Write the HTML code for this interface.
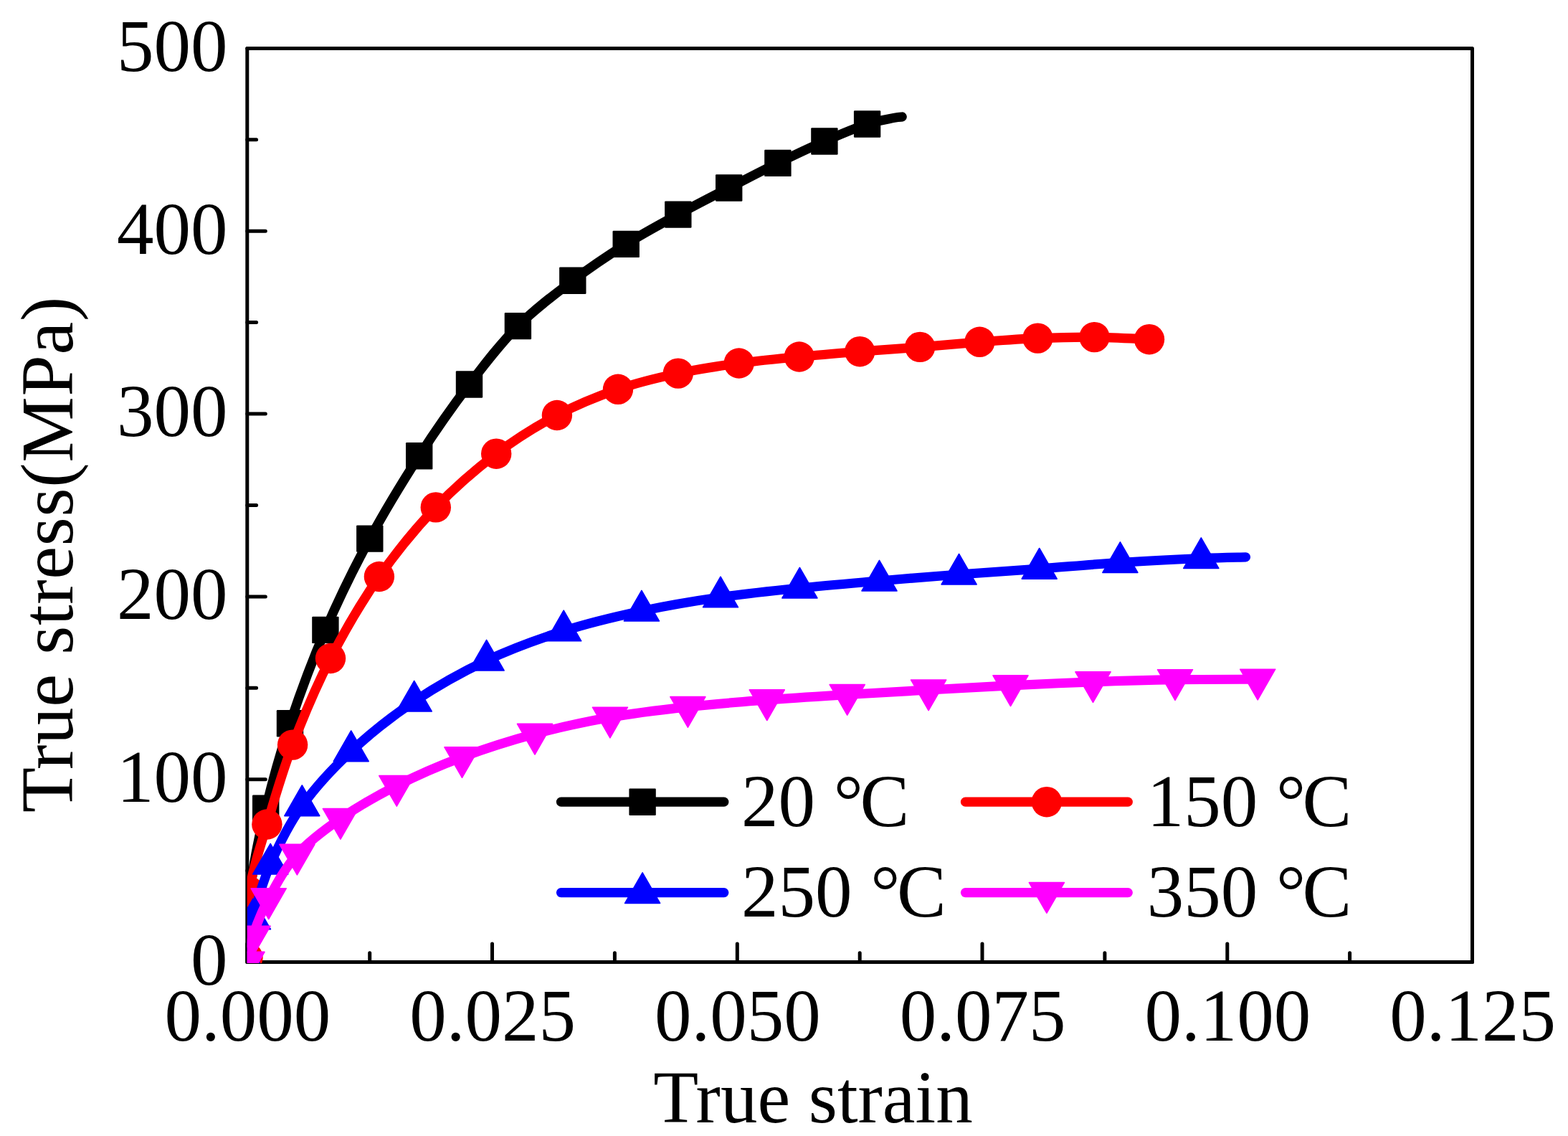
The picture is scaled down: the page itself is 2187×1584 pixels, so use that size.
<!DOCTYPE html>
<html lang="en">
<head>
<meta charset="utf-8">
<title>True stress vs. true strain at different temperatures</title>
<style>
html,body{margin:0;padding:0;background:#ffffff;}
body{width:2187px;height:1584px;overflow:hidden;}
svg{display:block;}
text{font-family:'Liberation Serif', serif;font-size:103px;fill:#000;}
.ax{stroke:#000;stroke-width:5;fill:none;stroke-linecap:round;stroke-linejoin:round;}
</style>
</head>
<body>
<svg width="2187" height="1584" viewBox="0 0 2187 1584">
<rect x="0" y="0" width="2187" height="1584" fill="#ffffff"/>
<g class="ax">
<rect x="344.8" y="67.4" width="1708.7" height="1274.1"/>
<path d="M344.8 1341.5h25.5M344.8 1214.1h12.8M344.8 1086.7h25.5M344.8 959.3h12.8M344.8 831.9h25.5M344.8 704.5h12.8M344.8 577h25.5M344.8 449.6h12.8M344.8 322.2h25.5M344.8 194.8h12.8M344.8 67.4h25.5M344.8 1341.5v-25.5M515.7 1341.5v-12.8M686.5 1341.5v-25.5M857.4 1341.5v-12.8M1028.3 1341.5v-25.5M1199.2 1341.5v-12.8M1370 1341.5v-25.5M1540.9 1341.5v-12.8M1711.8 1341.5v-25.5M1882.6 1341.5v-12.8M2053.5 1341.5v-25.5"/>
</g>
<defs><clipPath id="plotclip"><rect x="344.8" y="67.4" width="1711.2" height="1275.7"/></clipPath></defs>
<g clip-path="url(#plotclip)">
<path d="M345.2 1320C346.2 1304 347.2 1256.1 351.5 1224C355.8 1191.9 361.9 1163.2 370.7 1127.3C379.5 1091.4 390.6 1050.3 404.5 1008.8C418.4 967.3 435.3 921.3 453.9 878.4C472.4 835.5 494 791.5 515.8 751.1C537.6 710.7 561.6 671.6 584.7 635.7C607.8 599.9 631.5 566.2 654.5 536C677.5 505.8 698.4 478.7 722.4 454.6C746.4 430.5 773.7 410.3 798.8 391.3C823.9 372.3 848.7 355.8 873.2 340.4C897.7 325 921.9 312.2 945.8 299.1C969.7 286 993.5 273.9 1016.7 262C1039.9 250.1 1062.7 238.2 1084.9 227.4C1107.1 216.6 1129.1 206.1 1149.9 197C1170.7 187.9 1193.4 178.4 1209.6 173C1225.8 167.6 1238.7 166.1 1246.8 164.4C1254.9 162.7 1256.3 163.2 1258.2 162.9" fill="none" stroke="#000000" stroke-width="13.2" stroke-linecap="round" stroke-linejoin="round"/>
<rect x="352" y="1108.6" width="37.4" height="37.4" rx="1.2" fill="#000000"/><rect x="385.8" y="990.1" width="37.4" height="37.4" rx="1.2" fill="#000000"/><rect x="435.2" y="859.7" width="37.4" height="37.4" rx="1.2" fill="#000000"/><rect x="497.1" y="732.4" width="37.4" height="37.4" rx="1.2" fill="#000000"/><rect x="566" y="617" width="37.4" height="37.4" rx="1.2" fill="#000000"/><rect x="635.8" y="517.3" width="37.4" height="37.4" rx="1.2" fill="#000000"/><rect x="703.7" y="435.9" width="37.4" height="37.4" rx="1.2" fill="#000000"/><rect x="780.1" y="372.6" width="37.4" height="37.4" rx="1.2" fill="#000000"/><rect x="854.5" y="321.7" width="37.4" height="37.4" rx="1.2" fill="#000000"/><rect x="927.1" y="280.4" width="37.4" height="37.4" rx="1.2" fill="#000000"/><rect x="998" y="243.3" width="37.4" height="37.4" rx="1.2" fill="#000000"/><rect x="1066.2" y="208.7" width="37.4" height="37.4" rx="1.2" fill="#000000"/><rect x="1131.2" y="178.3" width="37.4" height="37.4" rx="1.2" fill="#000000"/><rect x="1190.9" y="154.3" width="37.4" height="37.4" rx="1.2" fill="#000000"/>
<path d="M345.5 1335C345.8 1319.7 343 1273.9 347.5 1243C352 1212.1 362.3 1183.6 372.4 1149.5C382.5 1115.4 393.3 1077.2 408.1 1038.6C422.9 1000 440.9 957.1 461 918C481.1 878.9 504.4 839.1 528.9 804C553.4 768.9 580.6 735.9 607.8 707.4C635 678.9 664 654.1 692.2 632.7C720.4 611.3 748.6 594 776.9 579C805.2 564 833.9 552.5 862 542.8C890.1 533.1 917.7 526.6 945.8 520.6C973.9 514.6 1002.5 510.4 1030.7 506.5C1058.9 502.6 1086.7 500.2 1114.8 497.5C1142.9 494.8 1171.2 492.5 1199.3 490.2C1227.4 487.9 1255.3 486.1 1283.2 483.9C1311.1 481.7 1339 478.9 1366.4 476.8C1393.8 474.8 1420.7 472.7 1447.4 471.6C1474.1 470.5 1500.6 469.8 1526.5 470.1C1552.4 470.4 1590.2 472.7 1603 473.2" fill="none" stroke="#ff0000" stroke-width="13.2" stroke-linecap="round" stroke-linejoin="round"/>
<circle cx="345.5" cy="1335" r="21.2" fill="#ff0000"/><circle cx="347.5" cy="1243" r="21.2" fill="#ff0000"/><circle cx="372.4" cy="1149.5" r="21.2" fill="#ff0000"/><circle cx="408.1" cy="1038.6" r="21.2" fill="#ff0000"/><circle cx="461" cy="918" r="21.2" fill="#ff0000"/><circle cx="528.9" cy="804" r="21.2" fill="#ff0000"/><circle cx="607.8" cy="707.4" r="21.2" fill="#ff0000"/><circle cx="692.2" cy="632.7" r="21.2" fill="#ff0000"/><circle cx="776.9" cy="579" r="21.2" fill="#ff0000"/><circle cx="862" cy="542.8" r="21.2" fill="#ff0000"/><circle cx="945.8" cy="520.6" r="21.2" fill="#ff0000"/><circle cx="1030.7" cy="506.5" r="21.2" fill="#ff0000"/><circle cx="1114.8" cy="497.5" r="21.2" fill="#ff0000"/><circle cx="1199.3" cy="490.2" r="21.2" fill="#ff0000"/><circle cx="1283.2" cy="483.9" r="21.2" fill="#ff0000"/><circle cx="1366.4" cy="476.8" r="21.2" fill="#ff0000"/><circle cx="1447.4" cy="471.6" r="21.2" fill="#ff0000"/><circle cx="1526.5" cy="470.1" r="21.2" fill="#ff0000"/><circle cx="1603" cy="473.2" r="21.2" fill="#ff0000"/>
<path d="M345 1341.5C346.3 1331.5 347.5 1304.5 352.9 1281.7C358.3 1259 365.8 1231.3 377.2 1205C388.6 1178.7 402.6 1149.8 421.3 1123.6C440.1 1097.4 463.6 1071.9 489.7 1047.6C515.8 1023.3 546.2 999.1 577.7 978C609.2 956.9 643.9 937.4 678.6 921C713.4 904.6 750.2 891.3 786.2 879.8C822.2 868.3 858.4 859.8 894.9 852C931.4 844.2 968.2 838.1 1005 832.8C1041.8 827.5 1078.5 823.8 1115.4 820C1152.3 816.2 1189.5 813.2 1226.5 810C1263.5 806.8 1300.4 803.8 1337.6 801C1374.8 798.2 1412.2 795.9 1449.7 793.1C1487.2 790.3 1524.8 786.8 1562.4 784.4C1600 782 1646.1 779.8 1675.3 778.5C1704.5 777.2 1727.1 777.1 1737.5 776.8" fill="none" stroke="#0000ff" stroke-width="13.2" stroke-linecap="round" stroke-linejoin="round"/>
<path d="M345 1312.9L369.5 1355.5L320.5 1355.5Z" fill="#0000ff" stroke="#0000ff" stroke-width="1.6" stroke-linejoin="round"/><path d="M352.9 1253.1L377.4 1295.7L328.4 1295.7Z" fill="#0000ff" stroke="#0000ff" stroke-width="1.6" stroke-linejoin="round"/><path d="M377.2 1176.4L401.7 1219L352.7 1219Z" fill="#0000ff" stroke="#0000ff" stroke-width="1.6" stroke-linejoin="round"/><path d="M421.3 1095L445.8 1137.6L396.8 1137.6Z" fill="#0000ff" stroke="#0000ff" stroke-width="1.6" stroke-linejoin="round"/><path d="M489.7 1019L514.2 1061.6L465.2 1061.6Z" fill="#0000ff" stroke="#0000ff" stroke-width="1.6" stroke-linejoin="round"/><path d="M577.7 949.4L602.2 992L553.2 992Z" fill="#0000ff" stroke="#0000ff" stroke-width="1.6" stroke-linejoin="round"/><path d="M678.6 892.4L703.1 935L654.1 935Z" fill="#0000ff" stroke="#0000ff" stroke-width="1.6" stroke-linejoin="round"/><path d="M786.2 851.2L810.7 893.8L761.7 893.8Z" fill="#0000ff" stroke="#0000ff" stroke-width="1.6" stroke-linejoin="round"/><path d="M894.9 823.4L919.4 866L870.4 866Z" fill="#0000ff" stroke="#0000ff" stroke-width="1.6" stroke-linejoin="round"/><path d="M1005 804.2L1029.5 846.8L980.5 846.8Z" fill="#0000ff" stroke="#0000ff" stroke-width="1.6" stroke-linejoin="round"/><path d="M1115.4 791.4L1139.9 834L1090.9 834Z" fill="#0000ff" stroke="#0000ff" stroke-width="1.6" stroke-linejoin="round"/><path d="M1226.5 781.4L1251 824L1202 824Z" fill="#0000ff" stroke="#0000ff" stroke-width="1.6" stroke-linejoin="round"/><path d="M1337.6 772.4L1362.1 815L1313.1 815Z" fill="#0000ff" stroke="#0000ff" stroke-width="1.6" stroke-linejoin="round"/><path d="M1449.7 764.5L1474.2 807.1L1425.2 807.1Z" fill="#0000ff" stroke="#0000ff" stroke-width="1.6" stroke-linejoin="round"/><path d="M1562.4 755.8L1586.9 798.4L1537.9 798.4Z" fill="#0000ff" stroke="#0000ff" stroke-width="1.6" stroke-linejoin="round"/><path d="M1675.3 749.9L1699.8 792.5L1650.8 792.5Z" fill="#0000ff" stroke="#0000ff" stroke-width="1.6" stroke-linejoin="round"/>
<path d="M344.5 1341.4C345.8 1335.4 347.5 1320 352.5 1305.3C357.5 1290.5 364.4 1271.9 374.7 1252.9C385 1233.9 397.7 1209.9 414.4 1191.3C431.1 1172.7 451.8 1157.5 474.9 1141.5C498 1125.5 525 1109.9 553.3 1095.6C581.6 1081.3 612.4 1067.8 644.5 1055.8C676.6 1043.8 711.6 1032.7 746 1023.4C780.4 1014.1 815.3 1006.5 850.9 1000.2C886.5 993.9 922.9 989.7 959.4 985.6C995.9 981.5 1032.8 978.8 1069.8 975.9C1106.8 973 1144.2 970.8 1181.7 968.5C1219.2 966.2 1257.1 964.1 1295.1 962C1333.1 959.9 1371.3 957.8 1409.5 955.9C1447.7 954 1486.2 952.2 1524.5 950.8C1562.8 949.4 1600.7 948.3 1639 947.7C1677.3 947.1 1735 947.3 1754.2 947.2" fill="none" stroke="#ff00ff" stroke-width="13.2" stroke-linecap="round" stroke-linejoin="round"/>
<path d="M344.5 1370L369 1327.4L320 1327.4Z" fill="#ff00ff" stroke="#ff00ff" stroke-width="1.6" stroke-linejoin="round"/><path d="M352.5 1333.9L377 1291.3L328 1291.3Z" fill="#ff00ff" stroke="#ff00ff" stroke-width="1.6" stroke-linejoin="round"/><path d="M374.7 1281.5L399.2 1238.9L350.2 1238.9Z" fill="#ff00ff" stroke="#ff00ff" stroke-width="1.6" stroke-linejoin="round"/><path d="M414.4 1219.9L438.9 1177.3L389.9 1177.3Z" fill="#ff00ff" stroke="#ff00ff" stroke-width="1.6" stroke-linejoin="round"/><path d="M474.9 1170.1L499.4 1127.5L450.4 1127.5Z" fill="#ff00ff" stroke="#ff00ff" stroke-width="1.6" stroke-linejoin="round"/><path d="M553.3 1124.2L577.8 1081.6L528.8 1081.6Z" fill="#ff00ff" stroke="#ff00ff" stroke-width="1.6" stroke-linejoin="round"/><path d="M644.5 1084.4L669 1041.8L620 1041.8Z" fill="#ff00ff" stroke="#ff00ff" stroke-width="1.6" stroke-linejoin="round"/><path d="M746 1052L770.5 1009.4L721.5 1009.4Z" fill="#ff00ff" stroke="#ff00ff" stroke-width="1.6" stroke-linejoin="round"/><path d="M850.9 1028.8L875.4 986.2L826.4 986.2Z" fill="#ff00ff" stroke="#ff00ff" stroke-width="1.6" stroke-linejoin="round"/><path d="M959.4 1014.2L983.9 971.6L934.9 971.6Z" fill="#ff00ff" stroke="#ff00ff" stroke-width="1.6" stroke-linejoin="round"/><path d="M1069.8 1004.5L1094.3 961.9L1045.3 961.9Z" fill="#ff00ff" stroke="#ff00ff" stroke-width="1.6" stroke-linejoin="round"/><path d="M1181.7 997.1L1206.2 954.5L1157.2 954.5Z" fill="#ff00ff" stroke="#ff00ff" stroke-width="1.6" stroke-linejoin="round"/><path d="M1295.1 990.6L1319.6 948L1270.6 948Z" fill="#ff00ff" stroke="#ff00ff" stroke-width="1.6" stroke-linejoin="round"/><path d="M1409.5 984.5L1434 941.9L1385 941.9Z" fill="#ff00ff" stroke="#ff00ff" stroke-width="1.6" stroke-linejoin="round"/><path d="M1524.5 979.4L1549 936.8L1500 936.8Z" fill="#ff00ff" stroke="#ff00ff" stroke-width="1.6" stroke-linejoin="round"/><path d="M1639 976.3L1663.5 933.7L1614.5 933.7Z" fill="#ff00ff" stroke="#ff00ff" stroke-width="1.6" stroke-linejoin="round"/><path d="M1754.2 975.8L1778.7 933.2L1729.7 933.2Z" fill="#ff00ff" stroke="#ff00ff" stroke-width="1.6" stroke-linejoin="round"/>
</g>
<text x="317.5" y="1372.8" text-anchor="end">0</text>
<text x="317.5" y="1118" text-anchor="end">100</text>
<text x="317.5" y="863.2" text-anchor="end">200</text>
<text x="317.5" y="608.3" text-anchor="end">300</text>
<text x="317.5" y="353.5" text-anchor="end">400</text>
<text x="317.5" y="98.7" text-anchor="end">500</text>
<text x="345.4" y="1451.3" text-anchor="middle">0.000</text>
<text x="687.1" y="1451.3" text-anchor="middle">0.025</text>
<text x="1028.9" y="1451.3" text-anchor="middle">0.050</text>
<text x="1370.6" y="1451.3" text-anchor="middle">0.075</text>
<text x="1712.4" y="1451.3" text-anchor="middle">0.100</text>
<text x="2054.1" y="1451.3" text-anchor="middle">0.125</text>
<text x="1134" y="1565" text-anchor="middle">True strain</text>
<text transform="translate(100.6 773.0) rotate(-90)" text-anchor="middle" style="letter-spacing:0.7px">True stress(MPa)</text>
<path d="M782.5 1118.2H1009.8" stroke="#000000" stroke-width="13.2" stroke-linecap="round" fill="none"/><rect x="877.4" y="1099.5" width="37.4" height="37.4" rx="1.2" fill="#000000"/><text x="1034.1" y="1151.6">20 °<tspan dx="-4.6">C</tspan></text>
<path d="M1346.5 1118.2H1573.3" stroke="#ff0000" stroke-width="13.2" stroke-linecap="round" fill="none"/><circle cx="1459.9" cy="1118.2" r="21.2" fill="#ff0000"/><text x="1599.7" y="1151.6">150 °<tspan dx="-4.6">C</tspan></text>
<path d="M782.5 1244.6H1009.8" stroke="#0000ff" stroke-width="13.2" stroke-linecap="round" fill="none"/><path d="M896.1 1216.8L920.6 1259.4L871.6 1259.4Z" fill="#0000ff" stroke="#0000ff" stroke-width="1.6" stroke-linejoin="round"/><text x="1034.1" y="1278">250 °<tspan dx="-4.6">C</tspan></text>
<path d="M1346.5 1244.6H1573.3" stroke="#ff00ff" stroke-width="13.2" stroke-linecap="round" fill="none"/><path d="M1459.9 1273.2L1484.4 1230.6L1435.4 1230.6Z" fill="#ff00ff" stroke="#ff00ff" stroke-width="1.6" stroke-linejoin="round"/><text x="1599.7" y="1278">350 °<tspan dx="-4.6">C</tspan></text>
</svg>
</body>
</html>
